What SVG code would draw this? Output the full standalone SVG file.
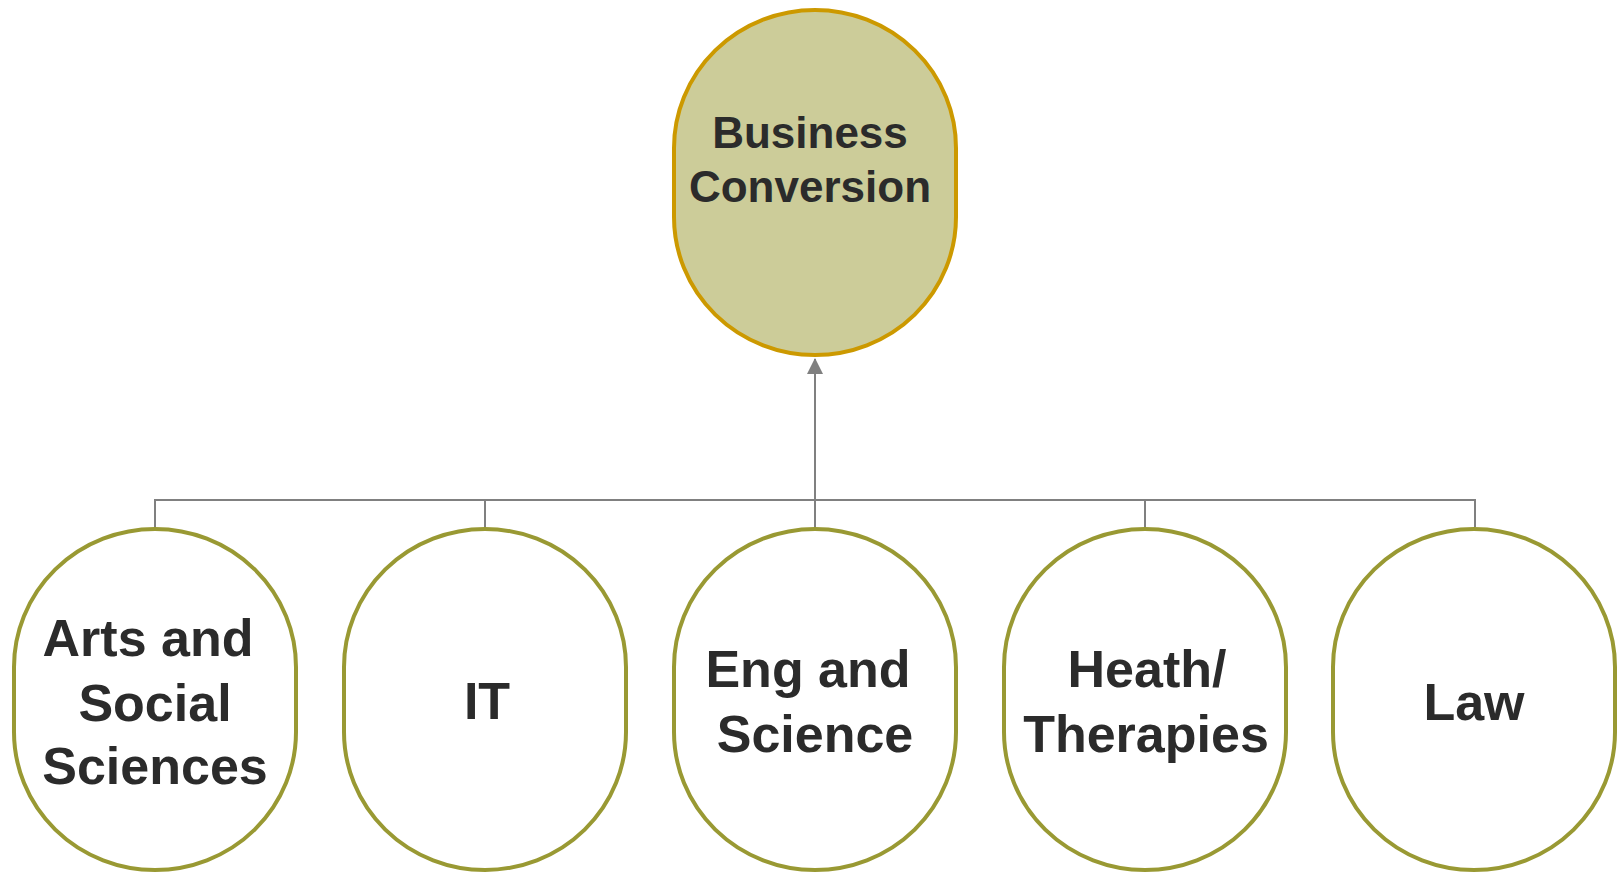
<svg xmlns="http://www.w3.org/2000/svg" width="1622" height="874" viewBox="0 0 1622 874">
<style>
.top{fill:#CCCC99;stroke:#CC9900;stroke-width:4}
.sub{fill:#FFFFFF;stroke:#999933;stroke-width:4}
.t{font-family:"Liberation Sans",Arial,sans-serif;font-weight:bold;fill:#2B2B2B;text-anchor:middle}
.t1{font-size:44px}
.t2{font-size:52px}
.c{fill:none;stroke:#808080;stroke-width:2}
</style>
<defs>
<marker id="arr" viewBox="0 0 16 16" refX="15" refY="8" markerWidth="16" markerHeight="16" markerUnits="userSpaceOnUse" orient="auto">
<path d="M0,0 L16,8 L0,16 Z" fill="#808080"/>
</marker>
</defs>
<rect width="1622" height="874" fill="#FFFFFF"/>
<g id="connectors">
<path class="c" d="M155,527 V500 H1475 V527"/>
<path class="c" d="M485,527 V500"/>
<path class="c" d="M1145,527 V500"/>
<path class="c" d="M815,527 V500"/>
<path class="c" d="M815,500 V359" marker-end="url(#arr)"/>
</g>
<g id="business-conversion">
<rect class="top" x="674" y="10" width="282" height="345" rx="141" ry="138"/>
<text class="t t1" x="810" y="148">Business</text>
<text class="t t1" x="810" y="202">Conversion</text>
</g>
<g id="arts">
<rect class="sub" x="14" y="529" width="282" height="341" rx="141" ry="138"/>
<text class="t t2" x="148" y="656">Arts and</text>
<text class="t t2" x="155" y="721">Social</text>
<text class="t t2" x="155" y="784">Sciences</text>
</g>
<g id="it">
<rect class="sub" x="344" y="529" width="282" height="341" rx="141" ry="138"/>
<text class="t t2" x="487" y="719">IT</text>
</g>
<g id="eng">
<rect class="sub" x="674" y="529" width="282" height="341" rx="141" ry="138"/>
<text class="t t2" x="808" y="687">Eng and</text>
<text class="t t2" x="815" y="752">Science</text>
</g>
<g id="health">
<rect class="sub" x="1004" y="529" width="282" height="341" rx="141" ry="138"/>
<text class="t t2" x="1147" y="687">Heath/</text>
<text class="t t2" x="1146" y="752">Therapies</text>
</g>
<g id="law">
<rect class="sub" x="1333" y="529" width="282" height="341" rx="141" ry="138"/>
<text class="t t2" x="1474" y="720">Law</text>
</g>
</svg>
